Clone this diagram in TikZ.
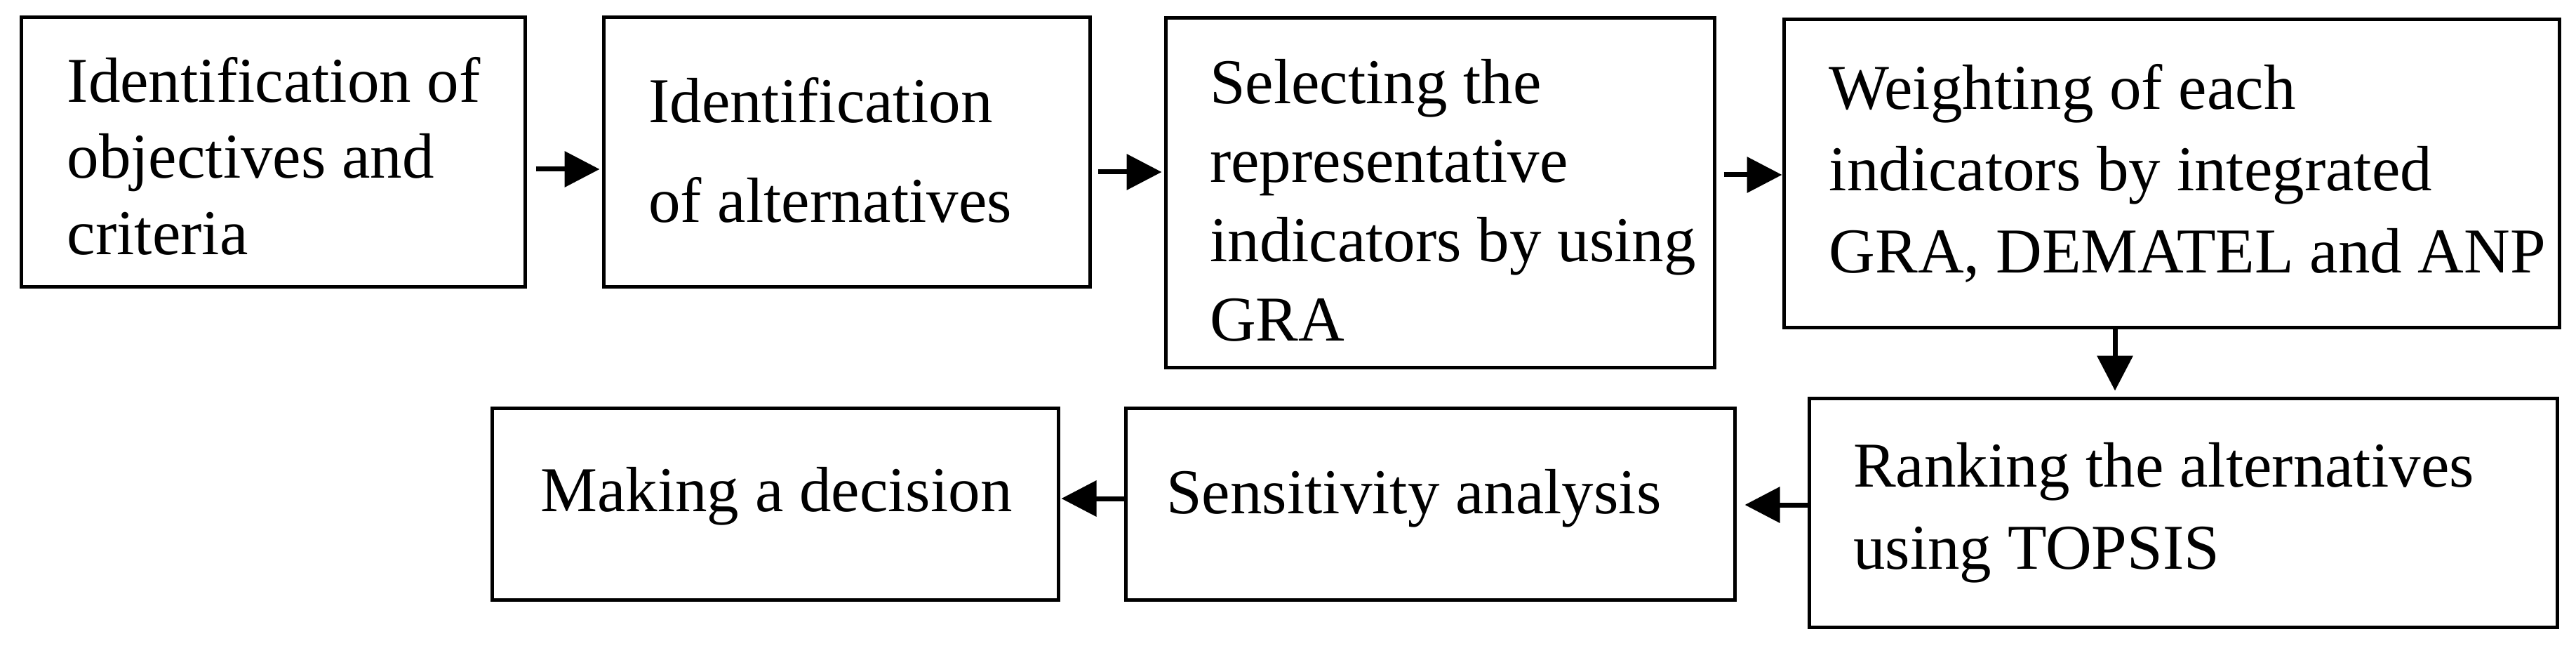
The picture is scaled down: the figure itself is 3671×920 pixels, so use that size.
\documentclass[tikz,border=0pt]{standalone}
\usepackage{fontspec}
\setmainfont{Liberation Serif}
\usetikzlibrary{arrows.meta}
\begin{document}
\begin{tikzpicture}[x=1pt,y=-1pt,
  box/.style={draw, line width=5pt, rectangle, inner sep=0pt},
  txt/.style={anchor=north west, inner sep=0pt, align=left, font=\fontsize{91}{#1}\selectfont},
  arr/.style={line width=7pt, -{Triangle[length=50pt,width=50pt]}}]
\useasboundingbox (0,0) rectangle (3671,920);

% boxes
\node[box, minimum width=718pt, minimum height=383pt] (b1) at (389,216.5) {};
\node[box, minimum width=693pt, minimum height=383pt] (b2) at (1206.5,216.5) {};
\node[box, minimum width=782pt, minimum height=497pt] (b3) at (2052,274.5) {};
\node[box, minimum width=1105pt, minimum height=438pt] (b4) at (3094.5,247) {};
\node[box, minimum width=1066pt, minimum height=326pt] (b5) at (3111,730) {};
\node[box, minimum width=868pt, minimum height=273pt] (b6) at (2038,717.5) {};
\node[box, minimum width=807pt, minimum height=273pt] (b7) at (1104.5,717.5) {};

% texts
\node[txt=108.5] (t1) at (95.5,69.05) {\strut Identification of\\objectives and\\criteria};
\node[txt=142] (t2) at (924,74.6) {\strut Identification\\of alternatives};
\node[txt=112.7] (t3) at (1724,68.1) {\strut Selecting the\\representative\\indicators by using\\GRA};
\node[txt=116.5] (t4) at (2606.5,73.45) {\strut Weighting of each\\indicators by integrated\\GRA, DEMATEL and ANP};
\node[txt=116.5] (t5) at (2641,611.95) {\strut Ranking the alternatives\\using TOPSIS};
\node[txt=100] (t6) at (1662,661) {\strut Sensitivity analysis};
\node[txt=100] (t7) at (770,658) {\strut Making a decision};

% connectors
\coordinate (a1s) at ([yshift=-24.5pt]b1.east);
\coordinate (a2s) at ([yshift=-28.5pt]b2.east);
\coordinate (a3s) at ([yshift=25.5pt]b3.east);
\coordinate (a4s) at ([xshift=-80.5pt]b4.south);
\coordinate (a5s) at ([yshift=11pt]b5.west);
\coordinate (a6s) at ([yshift=7.5pt]b6.west);

\draw[arr, shorten <=13pt, shorten >=3pt] (a1s) -- (a1s -| b2.west);
\draw[arr, shorten <=9.5pt, shorten >=3pt] (a2s) -- (a2s -| b3.west);
\draw[arr, shorten <=11pt] (a3s) -- (a3s -| b4.west);
\draw[arr, shorten >=8pt] (a4s) -- (a4s |- b5.north);
\draw[arr, shorten >=12pt] (a5s) -- (a5s -| b6.east);
\draw[arr, shorten >=2pt] (a6s) -- (a6s -| b7.east);
\end{tikzpicture}
\end{document}
